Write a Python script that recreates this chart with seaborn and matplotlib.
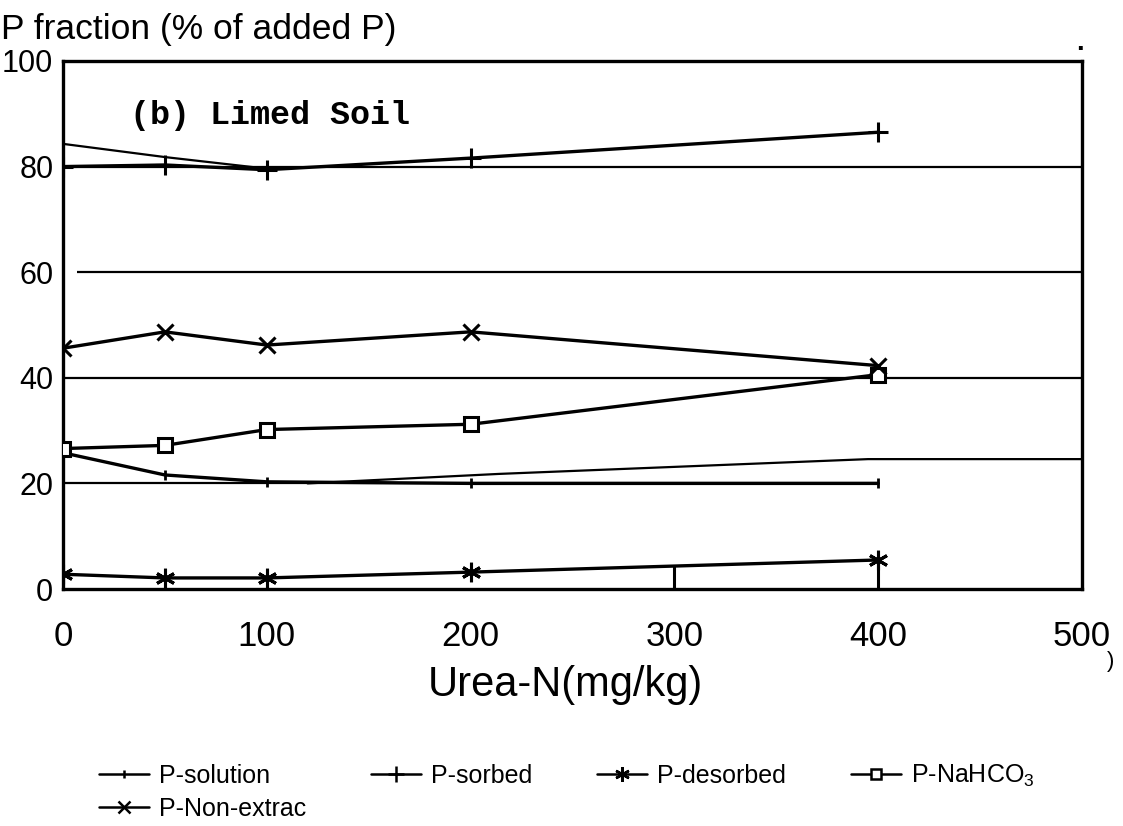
import matplotlib
matplotlib.use("Agg")
import matplotlib.pyplot as plt
from matplotlib.lines import Line2D
import seaborn as sns

# ---------------- data ----------------
urea_n = [0, 50, 100, 200, 400]
p_solution = [25.8, 21.6, 20.3, 20.0, 20.0]
p_sorbed = [80.0, 80.3, 79.4, 81.6, 86.5]
p_desorbed = [2.8, 2.1, 2.1, 3.2, 5.5]
p_nahco3 = [26.6, 27.2, 30.2, 31.2, 40.6]
p_nonextrac = [45.6, 48.7, 46.2, 48.7, 42.3]

series_names = ["P-solution", "P-sorbed", "P-desorbed", "P-NaHCO$_3$", "P-Non-extrac"]

# extra traces visible in the scanned figure
upper_trace_x = [0, 50, 100]
upper_trace_y = [84.3, 81.8, 79.6]
lower_trace_x = [120, 214, 395, 500]
lower_trace_y = [20.0, 21.8, 24.6, 24.6]
grid_levels = [20, 40, 60, 80]
grid_starts = [0, 0, 7, 0]
grid_ends = [400, 500, 500, 500]
stub_x = [300, 400]
stub_top = [4.3, 5.5]

x_ticks = [0, 100, 200, 300, 400, 500]
y_ticks = [0, 20, 40, 60, 80, 100]

# ---------------- style ----------------
sns.set_theme(style="white")
FAM = ["Liberation Sans", "DejaVu Sans"]
plt.rcParams["font.family"] = FAM
plt.rcParams["mathtext.fontset"] = "custom"
plt.rcParams["mathtext.rm"] = "Liberation Sans"
plt.rcParams["mathtext.it"] = "Liberation Sans"
for k in ["text.color", "axes.labelcolor", "xtick.color", "ytick.color", "axes.edgecolor"]:
    plt.rcParams[k] = "black"

fig = plt.figure(figsize=(11.23, 8.26), dpi=100)
ax = fig.add_axes([0.0561, 0.2869, 0.9074, 0.6393])

# reference lines
ax.hlines(grid_levels, grid_starts, grid_ends, color="black", lw=1.6, zorder=1)
ax.vlines(stub_x, 0, stub_top, color="black", lw=2.2, zorder=2)

# extra traces
sns.lineplot(x=upper_trace_x, y=upper_trace_y, ax=ax, color="black", lw=1.6, legend=False)
sns.lineplot(x=lower_trace_x, y=lower_trace_y, ax=ax, color="black", lw=1.6, legend=False)

styles = [
    dict(marker="|", markersize=7, markeredgewidth=2.0, markerfacecolor="black"),
    dict(marker="+", markersize=15, markeredgewidth=2.2, markerfacecolor="black"),
    dict(marker=(6, 2, 0), markersize=14, markeredgewidth=2.2, markerfacecolor="black"),
    dict(marker="s", markersize=10, markeredgewidth=2.2, markerfacecolor="white"),
    dict(marker="x", markersize=11, markeredgewidth=2.2, markerfacecolor="black"),
]
values = [p_solution, p_sorbed, p_desorbed, p_nahco3, p_nonextrac]

handles = []
for name, vals, st in zip(series_names, values, styles):
    sns.lineplot(x=urea_n, y=vals, ax=ax, color="black", lw=2.4,
                 markeredgecolor="black", legend=False, zorder=3, **st)
    handles.append(Line2D([], [], color="black", lw=1.8,
                          marker=st["marker"],
                          markersize=st["markersize"] * 0.75,
                          markeredgewidth=1.8,
                          markerfacecolor=st["markerfacecolor"],
                          markeredgecolor="black"))

ax.set_xlim(0, 500)
ax.set_ylim(0, 100)
ax.set_xticks(x_ticks)
ax.set_yticks(y_ticks)
ax.set_xticklabels([str(v) for v in x_ticks])
ax.set_yticklabels([str(v) for v in y_ticks])
ax.tick_params(axis="both", length=0, colors="black")
ax.tick_params(axis="x", pad=22, labelsize=25)
ax.tick_params(axis="y", pad=7, labelsize=22)
for sp in ax.spines.values():
    sp.set_visible(True)
    sp.set_color("black")
    sp.set_linewidth(2.4)
ax.set_ylabel("")

ax.set_xlabel("Urea-N(mg/kg)", fontsize=30, va="center")
ax.xaxis.set_label_coords(0.4926, -0.182)

fig.text(0.001, 1 - 30 / 826, "P fraction (% of added P)", fontsize=25.5,
         ha="left", va="center")
ax.text(0.066, 0.896, "(b) Limed Soil", transform=ax.transAxes,
        fontsize=24, fontweight="bold", ha="left", va="center",
        family=["Liberation Mono", "DejaVu Sans Mono"])
# small scan marks outside the frame
fig.text(1111 / 1123, 1 - 662 / 826, ")", fontsize=16, ha="center", va="center")
fig.text(1081 / 1123, 1 - 50 / 826, "\u00b7", fontsize=20, fontweight="bold",
         ha="center", va="center")

# legend: row-major order (4 + 1) -> reorder for column filling
order = [0, 4, 1, 2, 3]
leg = fig.legend([handles[i] for i in order], [series_names[i] for i in order],
                 ncol=4, loc="upper left", bbox_to_anchor=(0.088, 0.076),
                 frameon=False, fontsize=18, handlelength=2.0,
                 handletextpad=0.4, columnspacing=2.6, labelspacing=0.35,
                 borderpad=0, borderaxespad=0)

fig.savefig("out.png", dpi=100)
